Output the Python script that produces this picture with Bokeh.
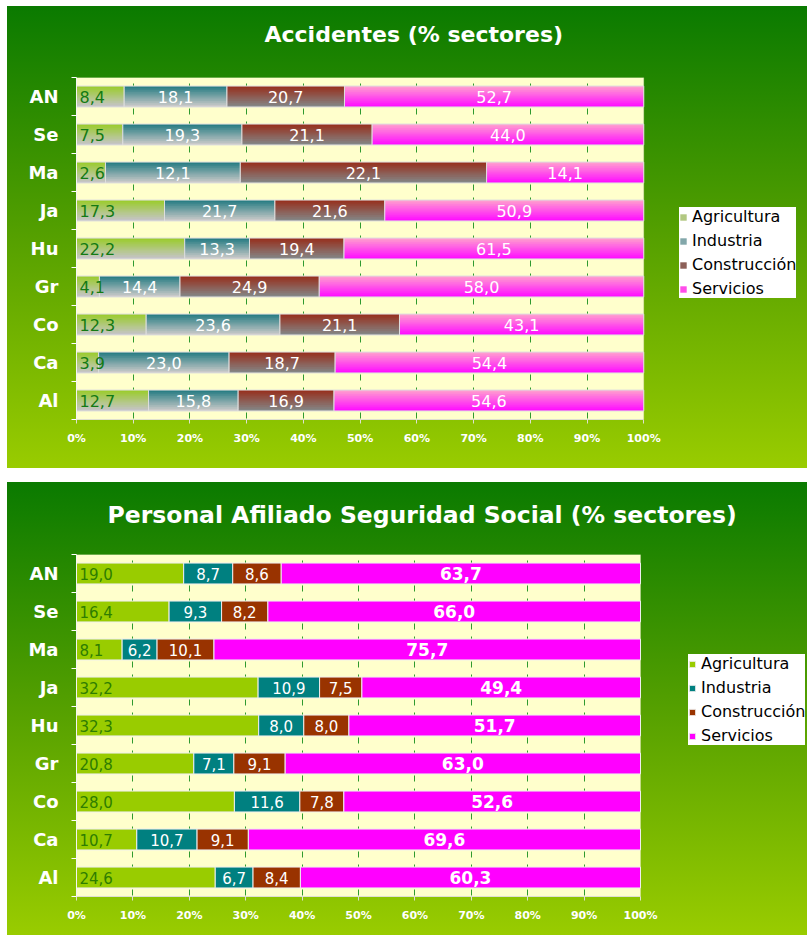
import numpy as np
from bokeh.plotting import figure
from bokeh.models import (ColumnDataSource, FixedTicker, Legend, LegendItem, Range1d, Spacer,
                          BoxAnnotation, Title)
from bokeh.layouts import column, row
from bokeh.transform import dodge
from bokeh.core.properties import value
from bokeh.embed import file_html
from bokeh.resources import INLINE

# ---------------- data ----------------
CATEGORIES = ["AN", "Se", "Ma", "Ja", "Hu", "Gr", "Co", "Ca", "Al"]
SECTORS = ["Agricultura", "Industria", "Construcción", "Servicios"]

ACC_AGRICULTURA = [8.4, 7.5, 2.6, 17.3, 22.2, 4.1, 12.3, 3.9, 12.7]
ACC_INDUSTRIA = [18.1, 19.3, 12.1, 21.7, 13.3, 14.4, 23.6, 23.0, 15.8]
ACC_CONSTRUCCION = [20.7, 21.1, 22.1, 21.6, 19.4, 24.9, 21.1, 18.7, 16.9]
ACC_SERVICIOS = [52.7, 44.0, 14.1, 50.9, 61.5, 58.0, 43.1, 54.4, 54.6]

AFI_AGRICULTURA = [19.0, 16.4, 8.1, 32.2, 32.3, 20.8, 28.0, 10.7, 24.6]
AFI_INDUSTRIA = [8.7, 9.3, 6.2, 10.9, 8.0, 7.1, 11.6, 10.7, 6.7]
AFI_CONSTRUCCION = [8.6, 8.2, 10.1, 7.5, 8.0, 9.1, 7.8, 9.1, 8.4]
AFI_SERVICIOS = [63.7, 66.0, 75.7, 49.4, 51.7, 63.0, 52.6, 69.6, 60.3]

X_TICKS = [0, 10, 20, 30, 40, 50, 60, 70, 80, 90, 100]
X_TICK_LABELS = ["0%", "10%", "20%", "30%", "40%", "50%", "60%", "70%", "80%", "90%", "100%"]

TITLE_ACC = "Accidentes (% sectores)"
TITLE_AFI = "Personal Afiliado Seguridad Social (% sectores)"

# ---------------- styles ----------------
FONT = "DejaVu Sans"
BG_GRADIENT = "linear-gradient(180deg, #0a7a00 0%, #55a000 50%, #99cc00 100%)"
FRAME_FILL = "#ffffcc"
BAR_H = 0.55
FIG_W = 800

ACC_GRAD = [("#9ccc30", "#c4c4c4"), ("#2a7e84", "#c8c8c8"),
            ("#963220", "#848484"), ("#ff9ad0", "#ff10ff")]
AFI_COLORS = ["#99cc00", "#008080", "#993300", "#ff00ff"]


def hex2rgb(h):
    h = h.lstrip("#")
    return tuple(int(h[i:i + 2], 16) for i in (0, 2, 4))


def mix(c1, c2, t):
    a, b = hex2rgb(c1), hex2rgb(c2)
    return "#%02x%02x%02x" % tuple(int(round(a[i] + (b[i] - a[i]) * t)) for i in range(3))


def fmt(v):
    return ("%.1f" % v).replace(".", ",")


def base_figure(title, height, left, top, bottom, bar_px, title_size, title_offset,
                title_standoff, gap_standoff):
    n = len(CATEGORIES)
    frame_px = FIG_W - left
    x_max = X_TICKS[-1]
    p = figure(width=FIG_W, height=height, output_backend="svg", toolbar_location=None,
               x_range=Range1d(0, x_max * frame_px / bar_px), y_range=Range1d(-0.5, n - 0.5),
               min_border_left=left, min_border_right=0,
               min_border_top=top, min_border_bottom=bottom)
    p.styles = {"background": BG_GRADIENT}
    p.border_fill_color = None
    p.background_fill_color = None
    p.outline_line_color = None

    # cream plotting area (0..100 %)
    p.add_layout(BoxAnnotation(left=0, right=x_max, bottom=-0.5, top=n - 0.5,
                               fill_color=FRAME_FILL, fill_alpha=1.0,
                               line_color="#e6e6cc", line_width=1, level="image"))

    # invisible spacer title between frame and real title
    p.add_layout(Title(text=" ", text_font_size="1px", standoff=gap_standoff), "above")

    p.title.text = title
    p.title.text_color = "white"
    p.title.text_font = FONT
    p.title.text_font_style = "bold"
    p.title.text_font_size = title_size
    p.title.align = "left"
    p.title.offset = title_offset
    p.title.standoff = title_standoff

    ys = [n - 1 - i for i in range(n)]
    yb = [i - 0.5 for i in range(n + 1)]
    p.yaxis.ticker = FixedTicker(ticks=ys, minor_ticks=yb)
    p.yaxis.major_label_overrides = {y: c for y, c in zip(ys, CATEGORIES)}
    p.yaxis.major_tick_out = 0
    p.yaxis.major_tick_in = 0
    p.yaxis.minor_tick_out = 5
    p.yaxis.minor_tick_in = 0
    p.yaxis.minor_tick_line_color = "white"
    p.yaxis.axis_line_color = "#f4f4f4"
    p.yaxis.major_label_standoff = 13
    p.yaxis.major_label_text_color = "white"
    p.yaxis.major_label_text_font = FONT
    p.yaxis.major_label_text_font_style = "bold"
    p.yaxis.major_label_text_font_size = "18px"

    p.xaxis.ticker = FixedTicker(ticks=X_TICKS)
    p.xaxis.bounds = (0, x_max)
    p.xaxis.major_label_overrides = {t: l for t, l in zip(X_TICKS, X_TICK_LABELS)}
    p.xaxis.major_tick_out = 4
    p.xaxis.major_tick_in = 0
    p.xaxis.minor_tick_line_color = None
    p.xaxis.major_tick_line_color = "#e0e0d0"
    p.xaxis.axis_line_color = "#e0e0d0"
    p.xaxis.major_label_standoff = 8
    p.xaxis.major_label_text_color = "white"
    p.xaxis.major_label_text_font = FONT
    p.xaxis.major_label_text_font_style = "bold"
    p.xaxis.major_label_text_font_size = "11px"

    p.ygrid.grid_line_color = None
    p.xgrid.ticker = FixedTicker(ticks=X_TICKS[1:-1])
    p.xgrid.grid_line_color = "#2f9a2f"
    p.xgrid.grid_line_width = 1
    p.xgrid.grid_line_dash = "6 7 6 19"
    p.xgrid.grid_line_dash_offset = 12
    return p, ys


def build_sources(series, ys):
    arr = np.array(series, dtype=float)
    tot = arr.sum(axis=0)
    shares = arr / tot * 100.0
    cum = np.cumsum(shares, axis=0)
    out = []
    for k in range(len(series)):
        left = cum[k] - shares[k]
        right = cum[k]
        out.append(ColumnDataSource(dict(
            y=ys, left=left, right=right, mid=(left + right) / 2.0,
            lab=[fmt(v) for v in series[k]])))
    return out


def add_labels(p, srcs, agri_color, serv_bold, agri_size, other_size, serv_size):
    for k, src in enumerate(srcs):
        if k == 0:
            p.text(x="left", y="y", text="lab", source=src, x_offset=3,
                   text_align="left", text_baseline="middle",
                   text_font=value(FONT), text_font_size=agri_size, text_color=agri_color)
        else:
            bold = (k == 3 and serv_bold)
            p.text(x="mid", y="y", text="lab", source=src,
                   text_align="center", text_baseline="middle",
                   text_font=value(FONT), text_font_size=serv_size if k == 3 else other_size,
                   text_font_style="bold" if bold else "normal", text_color="white")


def add_legend(p, renderers, loc):
    items = [LegendItem(label=s, renderers=[r]) for s, r in zip(SECTORS, renderers)]
    lg = Legend(items=items, location=loc, background_fill_color="white",
                background_fill_alpha=1.0, border_line_color=None,
                label_text_font=FONT, label_text_font_size="16px", label_text_color="black",
                glyph_width=8, glyph_height=8, label_height=19, spacing=5,
                padding=8, margin=0, label_standoff=5)
    p.add_layout(lg)


# ---------------- chart 1: Accidentes (gradient bars) ----------------
p1, ys1 = base_figure(TITLE_ACC, 462, 68, 71, 49, 568, "22px", 188, 10, 23)
srcs1 = build_sources([ACC_AGRICULTURA, ACC_INDUSTRIA, ACC_CONSTRUCCION, ACC_SERVICIOS], ys1)
NSTRIP = 10
EXTRA = 0.03
leg1 = []
for k, src in enumerate(srcs1):
    top_c, bot_c = ACC_GRAD[k]
    sh = BAR_H / NSTRIP
    mid_r = None
    for s in range(NSTRIP):
        hgt = sh + (EXTRA if s < NSTRIP - 1 else 0.0)
        off = BAR_H / 2 - s * sh - hgt / 2
        r = p1.hbar(y=dodge("y", off), left="left", right="right", height=hgt,
                    fill_color=mix(top_c, bot_c, s / (NSTRIP - 1)), line_color=None, source=src)
        if s == NSTRIP // 2:
            mid_r = r
    p1.hbar(y="y", left="left", right="right", height=BAR_H, fill_color=None,
            line_color="#dedede", line_width=1, source=src)
    leg1.append(mid_r)
add_labels(p1, srcs1, "#137a13", False, "16px", "16px", "16px")
add_legend(p1, leg1, (603, 121))

# ---------------- chart 2: Afiliados (solid bars) ----------------
p2, ys2 = base_figure(TITLE_AFI, 453, 69, 72, 39, 564, "23.5px", 31, 10, 18)
srcs2 = build_sources([AFI_AGRICULTURA, AFI_INDUSTRIA, AFI_CONSTRUCCION, AFI_SERVICIOS], ys2)
leg2 = []
for k, src in enumerate(srcs2):
    r = p2.hbar(y="y", left="left", right="right", height=BAR_H, fill_color=AFI_COLORS[k],
                line_color="#eeeeee", line_width=1, source=src)
    leg2.append(r)
add_labels(p2, srcs2, "#2e7d00", True, "15px", "15px", "17px")
add_legend(p2, leg2, (612, 151))

layout = row(Spacer(width=7), column(Spacer(height=6), p1, Spacer(height=14), p2))
open("out.html", "w").write(file_html(layout, INLINE))
